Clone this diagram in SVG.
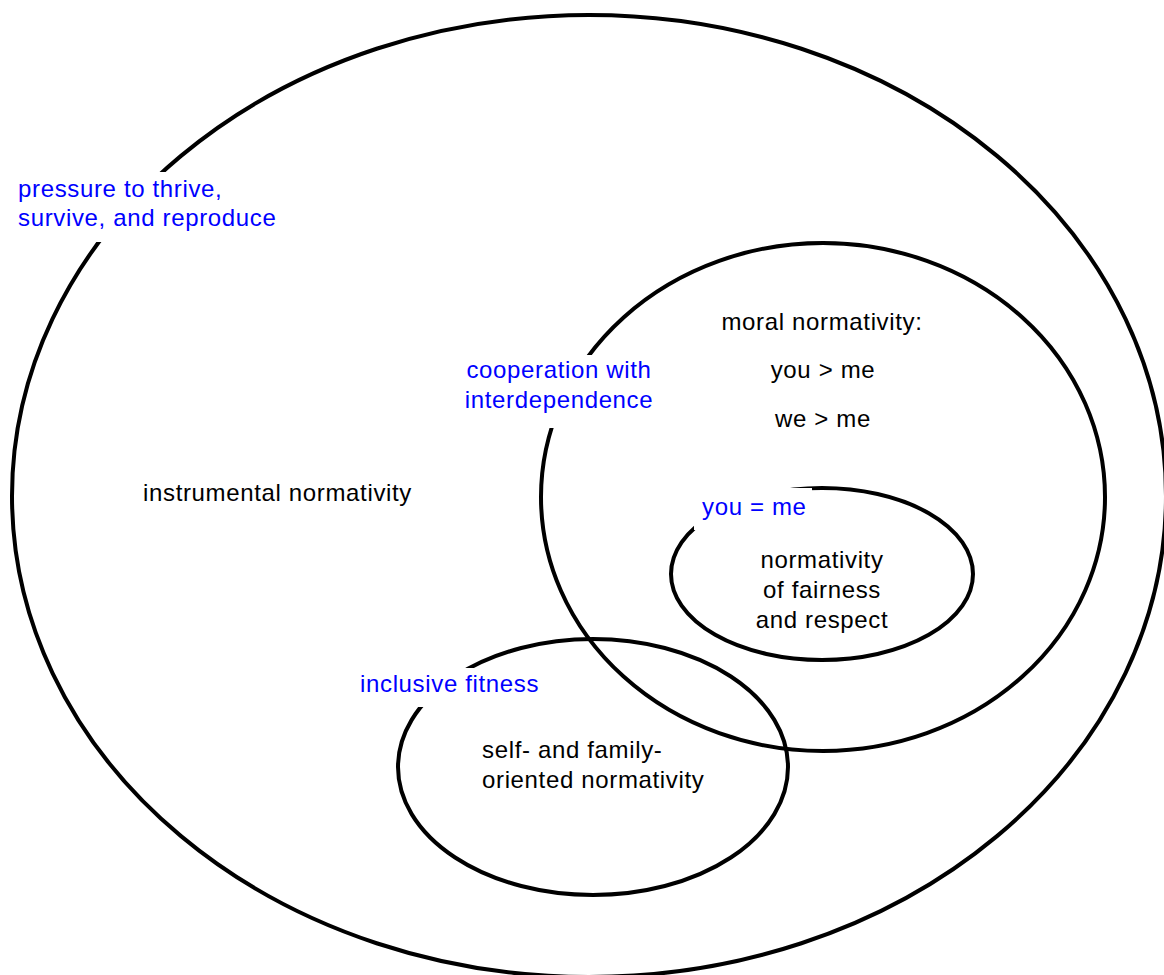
<svg xmlns="http://www.w3.org/2000/svg" width="1164" height="975" viewBox="0 0 1164 975">
<style>
.ring{fill:none;stroke:#000;stroke-width:4}
.mask{fill:#fff;stroke:none}
text{font-family:"Liberation Sans",Arial,sans-serif;font-size:24px;letter-spacing:0.65px}
.blue{fill:#0000ff}
.black{fill:#000}
.c{text-anchor:middle}
</style>
<rect width="1164" height="975" fill="#fff"/>
<g id="outer">
<ellipse class="ring" cx="589" cy="496" rx="577" ry="481"/>
<rect class="mask" x="12" y="172" width="275" height="70"/>
<text class="blue" x="18" y="197">pressure to thrive,</text>
<text class="blue" x="18" y="226">survive, and reproduce</text>
<text class="black" x="143" y="501">instrumental normativity</text>
</g>
<g id="cooperation">
<ellipse class="ring" cx="823" cy="497" rx="282" ry="254"/>
<rect class="mask" x="455" y="355" width="206" height="73"/>
<text class="blue c" x="559" y="378">cooperation with</text>
<text class="blue c" x="559" y="408">interdependence</text>
<text class="black c" x="822" y="330">moral normativity:</text>
<text class="black c" x="823" y="378">you &gt; me</text>
<text class="black c" x="823" y="427">we &gt; me</text>
</g>
<g id="fairness">
<ellipse class="ring" cx="822" cy="574" rx="151" ry="86"/>
<rect class="mask" x="694" y="488" width="118" height="42"/>
<text class="blue" x="702" y="515">you = me</text>
<text class="black c" x="822" y="568">normativity</text>
<text class="black c" x="822" y="598">of fairness</text>
<text class="black c" x="822" y="628">and respect</text>
</g>
<g id="inclusive">
<ellipse class="ring" cx="593" cy="767" rx="195" ry="128"/>
<rect class="mask" x="354" y="668" width="192" height="39"/>
<text class="blue" x="360" y="692">inclusive fitness</text>
<text class="black" x="482" y="758">self- and family-</text>
<text class="black" x="482" y="788">oriented normativity</text>
</g>
<g id="connectors"/>
</svg>
